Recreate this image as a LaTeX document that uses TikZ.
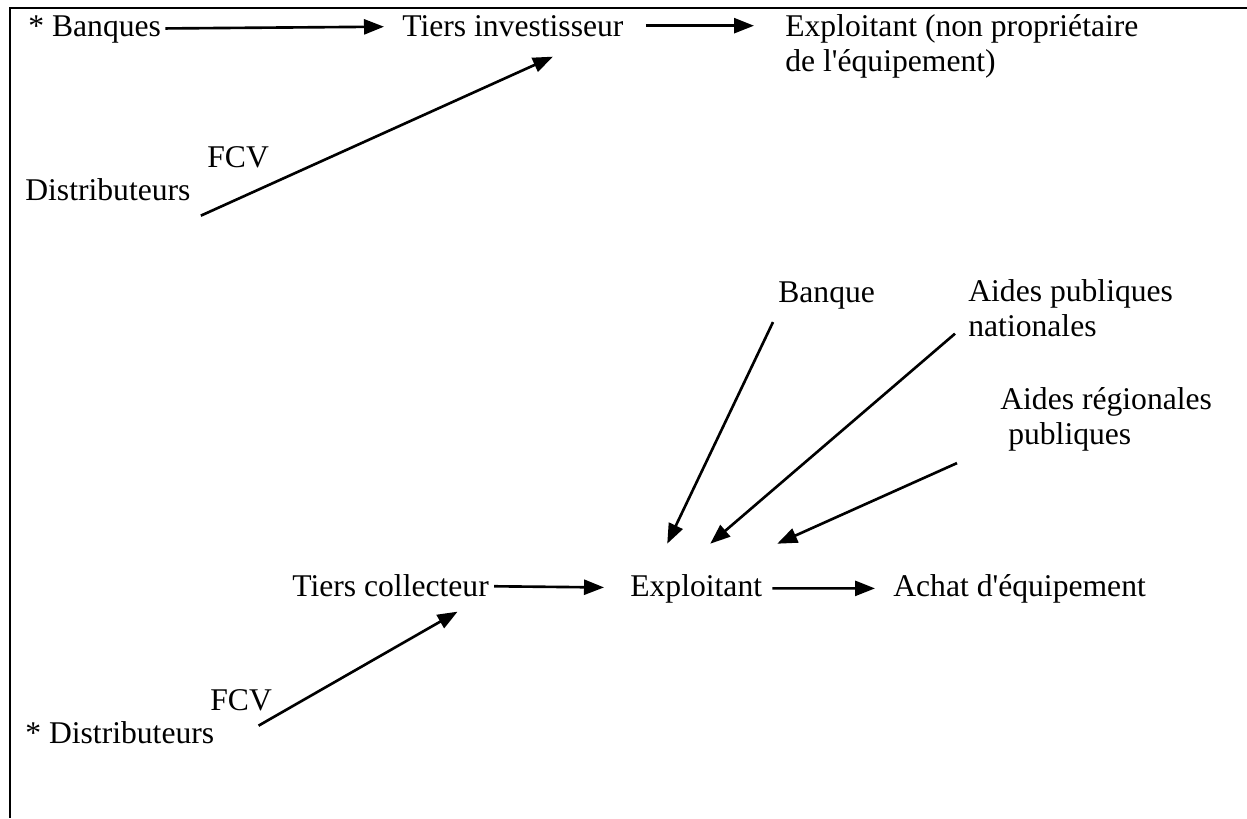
\documentclass[tikz,border=0pt]{standalone}
\usepackage{fontspec}
\setmainfont{Liberation Serif}
\usetikzlibrary{arrows.meta}
\begin{document}
\begin{tikzpicture}[x=0.02cm,y=-0.02cm,
  every node/.style={inner sep=0pt,font=\fontsize{18}{19.9}\selectfont},
  txt/.style={anchor=base west},
  multi/.style={anchor=base west,align=left},
  flow/.style={line width=1.5pt,-{Triangle[length=0.4cm,width=0.3cm]}},
  frame/.style={line width=1.7pt}]
\useasboundingbox (0,0) rectangle (1247,818);
\draw[frame] (1247,8) -- (10,8) -- (10,818);
\node[txt] (banq) at (28,36) {* Banques};
\node[txt] (tinv) at (402,36) {Tiers investisseur};
\node[multi] (expl) at (785,71) {Exploitant (non propri\'etaire\\de l\textquotesingle\'equipement)};
\node[txt] (fcva) at (207,167) {FCV};
\node[txt] (dist) at (25,200) {Distributeurs};
\node[txt] (banque) at (778,302) {Banque};
\node[multi] (apn) at (968,336) {Aides publiques\\nationales};
\node[multi] (arp) at (1000,444) {Aides r\'egionales\\\ publiques};
\node[txt] (tcol) at (292,596) {Tiers collecteur};
\node[txt] (exp) at (630,596) {Exploitant};
\node[txt] (achat) at (893,596) {Achat d\textquotesingle\'equipement};
\node[txt] (fcvb) at (210,710) {FCV};
\node[txt] (distb) at (25,743) {* Distributeurs};
\draw[flow,shorten <=0.08cm,shorten >=0.36cm] (banq) -- (tinv);
\draw[flow,shorten <=0.44cm,shorten >=0.62cm] (tinv.east) -- (tinv.east -| expl.west);
\draw[flow] ([shift={(10,15)}]dist.south east) -- ([shift={(40,20)}]tinv.south);
\draw[flow] ([shift={(-5,13)}]banque.south west) -- ([shift={(-29,-30)}]exp.north);
\draw[flow] ([shift={(-13,-3)}]apn.south west) -- ([shift={(14,-30)}]exp.north);
\draw[flow] ([shift={(-43,12)}]arp.south west) -- ([shift={(81,-30)}]exp.north);
\draw[flow,shorten <=0.1cm,shorten >=0.52cm] (tcol) -- (exp);
\draw[flow,shorten <=0.2cm,shorten >=0.36cm] (exp) -- (achat);
\draw[flow] ([shift={(44,-18)}]distb.south east) -- ([shift={(67,15)}]tcol.south);
\end{tikzpicture}
\end{document}
